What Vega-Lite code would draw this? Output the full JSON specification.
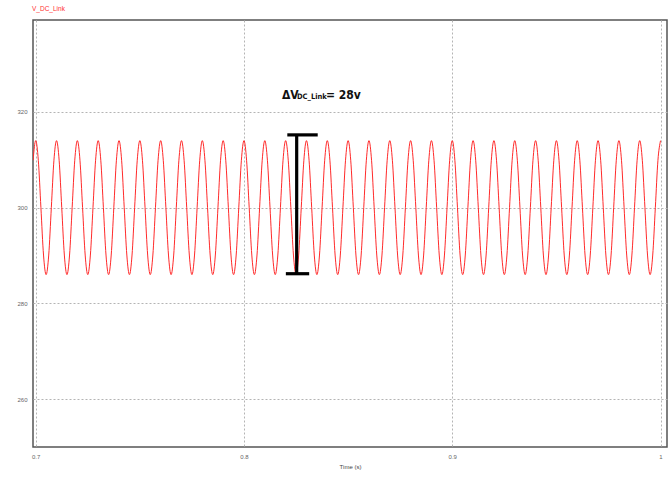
{
  "$schema": "https://vega.github.io/schema/vega-lite/v6.json",
  "width": 634,
  "height": 427,
  "autosize": {"type": "none"},
  "padding": {"left": 33, "top": 20, "right": 5, "bottom": 30},
  "background": "white",
  "title": {"text": "V_DC_Link", "anchor": "start", "frame": "group", "fontSize": 6.5, "color": "#ff3030", "fontWeight": "normal", "font": "Liberation Sans", "offset": 8, "dx": -1},
  "config": {
    "view": {"stroke": "#555555", "strokeWidth": 1.5},
    "axis": {"labelFont": "Liberation Sans", "labelFontSize": 6, "labelColor": "#666666", "tickSize": 0, "domain": false, "gridDash": [2, 2], "gridColor": "#b4b4b4", "gridWidth": 1, "labelPadding": 6, "titleFont": "Liberation Sans", "titleFontSize": 6, "titleFontWeight": "normal", "titleColor": "#444444"}
  },
  "datasets": {
    "wave": [
{"t":0.69875,"v":309.9},
{"t":0.70,"v":314},{"t":0.70125,"v":309.9},{"t":0.7025,"v":300},{"t":0.70375,"v":290.1},{"t":0.705,"v":286},{"t":0.70625,"v":290.1},{"t":0.7075,"v":300},{"t":0.70875,"v":309.9},
{"t":0.71,"v":314},{"t":0.71125,"v":309.9},{"t":0.7125,"v":300},{"t":0.71375,"v":290.1},{"t":0.715,"v":286},{"t":0.71625,"v":290.1},{"t":0.7175,"v":300},{"t":0.71875,"v":309.9},
{"t":0.72,"v":314},{"t":0.72125,"v":309.9},{"t":0.7225,"v":300},{"t":0.72375,"v":290.1},{"t":0.725,"v":286},{"t":0.72625,"v":290.1},{"t":0.7275,"v":300},{"t":0.72875,"v":309.9},
{"t":0.73,"v":314},{"t":0.73125,"v":309.9},{"t":0.7325,"v":300},{"t":0.73375,"v":290.1},{"t":0.735,"v":286},{"t":0.73625,"v":290.1},{"t":0.7375,"v":300},{"t":0.73875,"v":309.9},
{"t":0.74,"v":314},{"t":0.74125,"v":309.9},{"t":0.7425,"v":300},{"t":0.74375,"v":290.1},{"t":0.745,"v":286},{"t":0.74625,"v":290.1},{"t":0.7475,"v":300},{"t":0.74875,"v":309.9},
{"t":0.75,"v":314},{"t":0.75125,"v":309.9},{"t":0.7525,"v":300},{"t":0.75375,"v":290.1},{"t":0.755,"v":286},{"t":0.75625,"v":290.1},{"t":0.7575,"v":300},{"t":0.75875,"v":309.9},
{"t":0.76,"v":314},{"t":0.76125,"v":309.9},{"t":0.7625,"v":300},{"t":0.76375,"v":290.1},{"t":0.765,"v":286},{"t":0.76625,"v":290.1},{"t":0.7675,"v":300},{"t":0.76875,"v":309.9},
{"t":0.77,"v":314},{"t":0.77125,"v":309.9},{"t":0.7725,"v":300},{"t":0.77375,"v":290.1},{"t":0.775,"v":286},{"t":0.77625,"v":290.1},{"t":0.7775,"v":300},{"t":0.77875,"v":309.9},
{"t":0.78,"v":314},{"t":0.78125,"v":309.9},{"t":0.7825,"v":300},{"t":0.78375,"v":290.1},{"t":0.785,"v":286},{"t":0.78625,"v":290.1},{"t":0.7875,"v":300},{"t":0.78875,"v":309.9},
{"t":0.79,"v":314},{"t":0.79125,"v":309.9},{"t":0.7925,"v":300},{"t":0.79375,"v":290.1},{"t":0.795,"v":286},{"t":0.79625,"v":290.1},{"t":0.7975,"v":300},{"t":0.79875,"v":309.9},
{"t":0.80,"v":314},{"t":0.80125,"v":309.9},{"t":0.8025,"v":300},{"t":0.80375,"v":290.1},{"t":0.805,"v":286},{"t":0.80625,"v":290.1},{"t":0.8075,"v":300},{"t":0.80875,"v":309.9},
{"t":0.81,"v":314},{"t":0.81125,"v":309.9},{"t":0.8125,"v":300},{"t":0.81375,"v":290.1},{"t":0.815,"v":286},{"t":0.81625,"v":290.1},{"t":0.8175,"v":300},{"t":0.81875,"v":309.9},
{"t":0.82,"v":314},{"t":0.82125,"v":309.9},{"t":0.8225,"v":300},{"t":0.82375,"v":290.1},{"t":0.825,"v":286},{"t":0.82625,"v":290.1},{"t":0.8275,"v":300},{"t":0.82875,"v":309.9},
{"t":0.83,"v":314},{"t":0.83125,"v":309.9},{"t":0.8325,"v":300},{"t":0.83375,"v":290.1},{"t":0.835,"v":286},{"t":0.83625,"v":290.1},{"t":0.8375,"v":300},{"t":0.83875,"v":309.9},
{"t":0.84,"v":314},{"t":0.84125,"v":309.9},{"t":0.8425,"v":300},{"t":0.84375,"v":290.1},{"t":0.845,"v":286},{"t":0.84625,"v":290.1},{"t":0.8475,"v":300},{"t":0.84875,"v":309.9},
{"t":0.85,"v":314},{"t":0.85125,"v":309.9},{"t":0.8525,"v":300},{"t":0.85375,"v":290.1},{"t":0.855,"v":286},{"t":0.85625,"v":290.1},{"t":0.8575,"v":300},{"t":0.85875,"v":309.9},
{"t":0.86,"v":314},{"t":0.86125,"v":309.9},{"t":0.8625,"v":300},{"t":0.86375,"v":290.1},{"t":0.865,"v":286},{"t":0.86625,"v":290.1},{"t":0.8675,"v":300},{"t":0.86875,"v":309.9},
{"t":0.87,"v":314},{"t":0.87125,"v":309.9},{"t":0.8725,"v":300},{"t":0.87375,"v":290.1},{"t":0.875,"v":286},{"t":0.87625,"v":290.1},{"t":0.8775,"v":300},{"t":0.87875,"v":309.9},
{"t":0.88,"v":314},{"t":0.88125,"v":309.9},{"t":0.8825,"v":300},{"t":0.88375,"v":290.1},{"t":0.885,"v":286},{"t":0.88625,"v":290.1},{"t":0.8875,"v":300},{"t":0.88875,"v":309.9},
{"t":0.89,"v":314},{"t":0.89125,"v":309.9},{"t":0.8925,"v":300},{"t":0.89375,"v":290.1},{"t":0.895,"v":286},{"t":0.89625,"v":290.1},{"t":0.8975,"v":300},{"t":0.89875,"v":309.9},
{"t":0.90,"v":314},{"t":0.90125,"v":309.9},{"t":0.9025,"v":300},{"t":0.90375,"v":290.1},{"t":0.905,"v":286},{"t":0.90625,"v":290.1},{"t":0.9075,"v":300},{"t":0.90875,"v":309.9},
{"t":0.91,"v":314},{"t":0.91125,"v":309.9},{"t":0.9125,"v":300},{"t":0.91375,"v":290.1},{"t":0.915,"v":286},{"t":0.91625,"v":290.1},{"t":0.9175,"v":300},{"t":0.91875,"v":309.9},
{"t":0.92,"v":314},{"t":0.92125,"v":309.9},{"t":0.9225,"v":300},{"t":0.92375,"v":290.1},{"t":0.925,"v":286},{"t":0.92625,"v":290.1},{"t":0.9275,"v":300},{"t":0.92875,"v":309.9},
{"t":0.93,"v":314},{"t":0.93125,"v":309.9},{"t":0.9325,"v":300},{"t":0.93375,"v":290.1},{"t":0.935,"v":286},{"t":0.93625,"v":290.1},{"t":0.9375,"v":300},{"t":0.93875,"v":309.9},
{"t":0.94,"v":314},{"t":0.94125,"v":309.9},{"t":0.9425,"v":300},{"t":0.94375,"v":290.1},{"t":0.945,"v":286},{"t":0.94625,"v":290.1},{"t":0.9475,"v":300},{"t":0.94875,"v":309.9},
{"t":0.95,"v":314},{"t":0.95125,"v":309.9},{"t":0.9525,"v":300},{"t":0.95375,"v":290.1},{"t":0.955,"v":286},{"t":0.95625,"v":290.1},{"t":0.9575,"v":300},{"t":0.95875,"v":309.9},
{"t":0.96,"v":314},{"t":0.96125,"v":309.9},{"t":0.9625,"v":300},{"t":0.96375,"v":290.1},{"t":0.965,"v":286},{"t":0.96625,"v":290.1},{"t":0.9675,"v":300},{"t":0.96875,"v":309.9},
{"t":0.97,"v":314},{"t":0.97125,"v":309.9},{"t":0.9725,"v":300},{"t":0.97375,"v":290.1},{"t":0.975,"v":286},{"t":0.97625,"v":290.1},{"t":0.9775,"v":300},{"t":0.97875,"v":309.9},
{"t":0.98,"v":314},{"t":0.98125,"v":309.9},{"t":0.9825,"v":300},{"t":0.98375,"v":290.1},{"t":0.985,"v":286},{"t":0.98625,"v":290.1},{"t":0.9875,"v":300},{"t":0.98875,"v":309.9},
{"t":0.99,"v":314},{"t":0.99125,"v":309.9},{"t":0.9925,"v":300},{"t":0.99375,"v":290.1},{"t":0.995,"v":286},{"t":0.99625,"v":290.1},{"t":0.9975,"v":300},{"t":0.99875,"v":309.9},
{"t":1.0,"v":314}
    ],
    "beam": [
      {"t": 0.8253, "t2": 0.8253, "v": 286.2, "v2": 315.2},
      {"t": 0.8208, "t2": 0.8354, "v": 315.2, "v2": 315.2},
      {"t": 0.8201, "t2": 0.8313, "v": 286.2, "v2": 286.2}
    ],
    "bigText": [
      {"t": 0.81825, "v": 322.6, "label": "ΔV"},
      {"t": 0.83937, "v": 322.6, "label": "= 28v"}
    ],
    "smallText": [
      {"t": 0.82545, "v": 322.6, "label": "DC_Link"}
    ]
  },
  "encoding": {
    "x": {"field": "t", "type": "quantitative", "scale": {"domain": [0.6987, 1.0031], "nice": false, "zero": false}, "axis": {"values": [0.7, 0.8, 0.9, 1], "format": "~g", "title": "Time (s)", "titlePadding": 4}},
    "y": {"field": "v", "type": "quantitative", "scale": {"domain": [250, 339.2], "nice": false, "zero": false}, "axis": {"values": [260, 280, 300, 320], "title": null}}
  },
  "layer": [
    {
      "data": {"name": "wave"},
      "mark": {"type": "line", "interpolate": "monotone", "color": "#ff2a2a", "strokeWidth": 1, "clip": true}
    },
    {
      "data": {"name": "beam"},
      "mark": {"type": "rule", "color": "#000000", "strokeWidth": 3.2},
      "encoding": {
        "x2": {"field": "t2"},
        "y2": {"field": "v2"}
      }
    },
    {
      "data": {"name": "bigText"},
      "mark": {"type": "text", "align": "left", "baseline": "alphabetic", "font": "DejaVu Sans Condensed", "fontSize": 12, "fontWeight": "bold", "color": "#111111"},
      "encoding": {
        "text": {"field": "label"}
      }
    },
    {
      "data": {"name": "smallText"},
      "mark": {"type": "text", "align": "left", "baseline": "alphabetic", "font": "DejaVu Sans Condensed", "fontSize": 7.5, "fontWeight": "bold", "color": "#111111"},
      "encoding": {
        "text": {"field": "label"}
      }
    }
  ]
}
